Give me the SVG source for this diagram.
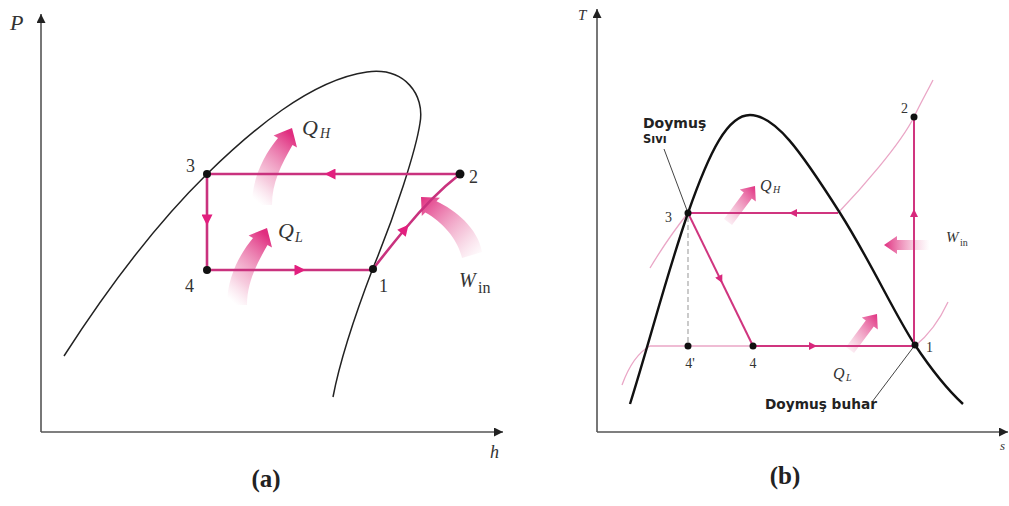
<svg xmlns="http://www.w3.org/2000/svg" width="1009" height="506" viewBox="0 0 1009 506">
<style>
.axis{fill:none;stroke:#555;stroke-width:1.6}
.domeA{fill:none;stroke:#222;stroke-width:1.5}
.domeB{fill:none;stroke:#111;stroke-width:2.4}
.cyc{fill:none;stroke:#c9327e;stroke-width:2.6}
.cycB{fill:none;stroke:#d0357f;stroke-width:2}
.iso{fill:none;stroke:#eaa6c6;stroke-width:1.3}
.lead{fill:none;stroke:#444;stroke-width:1}
.dot{fill:#111}
.num{font-family:"Liberation Serif",serif;fill:#333}
.ital{font-family:"Liberation Serif",serif;font-style:italic;fill:#333}
.sub{font-family:"Liberation Serif",serif;fill:#333}
.lbl{font-family:"DejaVu Sans",sans-serif;font-weight:bold;fill:#222}
.cap{font-family:"Liberation Serif",serif;font-weight:bold;fill:#222}
</style>
<defs>
<marker id="ahA" viewBox="0 0 10 10" refX="5" refY="5" markerWidth="13" markerHeight="11" orient="auto" markerUnits="userSpaceOnUse"><path d="M0,0 L10,5 L0,10 z" fill="#e21f7e"/></marker>
<marker id="ahB" viewBox="0 0 10 10" refX="5" refY="5" markerWidth="9" markerHeight="8" orient="auto" markerUnits="userSpaceOnUse"><path d="M0,0 L10,5 L0,10 z" fill="#d8287c"/></marker>
<marker id="axh" viewBox="0 0 10 10" refX="10" refY="5" markerWidth="11" markerHeight="9" orient="auto" markerUnits="userSpaceOnUse"><path d="M0,0 L10,5 L0,10 z" fill="#222"/></marker>
<linearGradient id="fadeUp" x1="0.2" y1="1" x2="0.7" y2="0"><stop offset="0" stop-color="#f5c6da" stop-opacity="0"/><stop offset="0.3" stop-color="#f1abc9" stop-opacity="0.6"/><stop offset="1" stop-color="#e02d7f"/></linearGradient>
<linearGradient id="fadeUL" x1="1" y1="1" x2="0" y2="0"><stop offset="0" stop-color="#f5c6da" stop-opacity="0"/><stop offset="0.35" stop-color="#f1abc9" stop-opacity="0.6"/><stop offset="1" stop-color="#e02d7f"/></linearGradient>
<linearGradient id="fadeUR" x1="0" y1="1" x2="1" y2="0"><stop offset="0" stop-color="#f5c6da" stop-opacity="0.1"/><stop offset="0.35" stop-color="#f1abc9" stop-opacity="0.7"/><stop offset="1" stop-color="#e02d7f"/></linearGradient>
<linearGradient id="fadeL" x1="1" y1="0" x2="0" y2="0"><stop offset="0" stop-color="#f5c6da" stop-opacity="0"/><stop offset="0.4" stop-color="#f1abc9" stop-opacity="0.7"/><stop offset="1" stop-color="#e02d7f"/></linearGradient>
</defs>
<rect width="1009" height="506" fill="#fff"/>

<!-- ========== (a) P-h diagram ========== -->
<g id="a-axes">
<path class="axis" d="M41,432 L41,14" marker-end="url(#axh)"/>
<path class="axis" d="M41,432 L503,432" marker-end="url(#axh)"/>
<text class="ital" x="10" y="30" font-size="22">P</text>
<text class="ital" x="490" y="458" font-size="18">h</text>
</g>
<g id="a-dome">
<path class="domeA" d="M64,356 C100,300 150,230 207,174 C250,132 310,80 367,72 C405,67 425,95 420,123 C416,150 395,215 373,268 C355,315 340,360 333,397"/>
</g>
<g id="a-heat">
<path d="M252,205 C252,178 264,155 278,138 L273.6,135.6 L292,128 L297,147.4 L292.5,145.1 C281,165 272,183 272,205 Z" fill="url(#fadeUp)"/>
<path transform="translate(-25,100)" d="M252,205 C252,178 264,155 278,138 L273.6,135.6 L292,128 L297,147.4 L292.5,145.1 C281,165 272,183 272,205 Z" fill="url(#fadeUp)"/>
<path d="M482,252 C478,228 455,210 436.5,201.3 L440,197.8 L421,197 L421.8,216 L425.3,212.5 C443,222 458,240 462,258 Z" fill="url(#fadeUL)"/>
<text class="ital" x="302" y="135" font-size="22">Q</text><text class="ital" x="320" y="138" font-size="14">H</text>
<text class="ital" x="278" y="238" font-size="22">Q</text><text class="ital" x="295" y="242" font-size="14">L</text>
<text class="ital" x="459" y="287" font-size="20">W</text><text class="sub" x="478" y="293" font-size="16">in</text>
</g>
<g id="a-connectors">
<path class="cyc" d="M460,174 L330,174 L207,174" marker-mid="url(#ahA)"/>
<path class="cyc" d="M207,174 L207,220 L207,270" marker-mid="url(#ahA)"/>
<path class="cyc" d="M207,270 L300,270 L373,270" marker-mid="url(#ahA)"/>
<path class="cyc" d="M373,269 Q390,247 405,229 Q432,196 460,174" marker-mid="url(#ahA)"/>
</g>
<g id="a-node3"><circle class="dot" cx="207" cy="174" r="4"/><text class="num" x="186" y="172" font-size="18">3</text></g>
<g id="a-node2"><circle class="dot" cx="460" cy="174" r="4.5"/><text class="num" x="469" y="183" font-size="18">2</text></g>
<g id="a-node4"><circle class="dot" cx="207" cy="270" r="4"/><text class="num" x="185" y="292" font-size="18">4</text></g>
<g id="a-node1"><circle class="dot" cx="373" cy="269" r="4"/><text class="num" x="379" y="292" font-size="18">1</text></g>
<text class="cap" x="266" y="487" font-size="25" text-anchor="middle">(a)</text>

<!-- ========== (b) T-s diagram ========== -->
<g id="b-axes">
<path class="axis" d="M597,432 L597,9" marker-end="url(#axh)"/>
<path class="axis" d="M597,432 L1008,432" marker-end="url(#axh)"/>
<text class="ital" x="578" y="20" font-size="15">T</text>
<text class="ital" x="1000" y="450" font-size="13">s</text>
</g>
<g id="b-isobars">
<path class="iso" d="M650,268 Q668,238 688,213"/>
<path class="iso" d="M838,213 C860,190 900,145 914,117 C920,104 927,92 933,80"/>
<path class="iso" d="M622,385 Q633,355 650,346 L915,346 Q935,330 948,302"/>
<path d="M688,217 L688,343" fill="none" stroke="#b5b5b5" stroke-width="1.4" stroke-dasharray="5,3"/>
</g>
<g id="b-dome">
<path class="domeB" d="M630,404 C650,340 668,270 688,213 C710,150 728,115 750,115 C775,115 800,150 840,213 C870,260 895,315 915,345 C935,375 950,392 963,404"/>
</g>
<g id="b-heat">
<path d="M724,219 L743.8,192.6 L739.8,189.6 L755,186 L755.8,201.6 L751.8,198.6 L732,225 Z" fill="url(#fadeUR)"/>
<path transform="translate(122,128)" d="M724,219 L743.8,192.6 L739.8,189.6 L755,186 L755.8,201.6 L751.8,198.6 L732,225 Z" fill="url(#fadeUR)"/>
<path d="M930,240 L897,240 L897,236 L884,245 L897,254 L897,250 L930,250 Z" fill="url(#fadeL)"/>
<text class="ital" x="760" y="191" font-size="16">Q</text><text class="ital" x="773" y="193" font-size="10">H</text>
<text class="ital" x="833" y="379" font-size="16">Q</text><text class="ital" x="846" y="381" font-size="10">L</text>
<text class="ital" x="946" y="242" font-size="15">W</text><text class="sub" x="960" y="246" font-size="10">in</text>
</g>
<g id="b-connectors">
<path class="cycB" d="M838,213 L793,213 L688,213" marker-mid="url(#ahB)"/>
<path class="cycB" d="M914,345 L914,213 L914,117" marker-mid="url(#ahB)"/>
<path class="cycB" d="M688,213 L720.5,279.5 L753,346" marker-mid="url(#ahB)"/>
<path class="cycB" d="M753,346 L813,346 L915,346" stroke-width="3" marker-mid="url(#ahB)"/>
<path class="lead" d="M664,149 L688,213"/>
<path class="lead" d="M872,402 L915,345"/>
</g>
<g id="b-node3"><circle class="dot" cx="688" cy="213" r="3.5"/><text class="num" x="665" y="222" font-size="14">3</text></g>
<g id="b-node2"><circle class="dot" cx="914" cy="117" r="3.5"/><text class="num" x="901" y="113" font-size="14">2</text></g>
<g id="b-node1"><circle class="dot" cx="915" cy="345" r="3.5"/><text class="num" x="926" y="352" font-size="14">1</text></g>
<g id="b-node4"><circle class="dot" cx="753" cy="346" r="3.5"/><text class="num" x="753" y="368" font-size="14" text-anchor="middle">4</text></g>
<g id="b-node4p"><circle class="dot" cx="688" cy="346" r="3.5"/><text class="num" x="690" y="368" font-size="14" text-anchor="middle">4'</text></g>
<g id="b-satliq"><text class="lbl" x="643" y="128" font-size="14">Doymuş</text><text class="lbl" x="643" y="143" font-size="11.5" font-weight="normal" style="font-weight:600">Sıvı</text></g>
<g id="b-satvap"><text class="lbl" x="765" y="409" font-size="13.7">Doymuş buhar</text></g>
<text class="cap" x="785" y="484" font-size="25" text-anchor="middle">(b)</text>
</svg>
